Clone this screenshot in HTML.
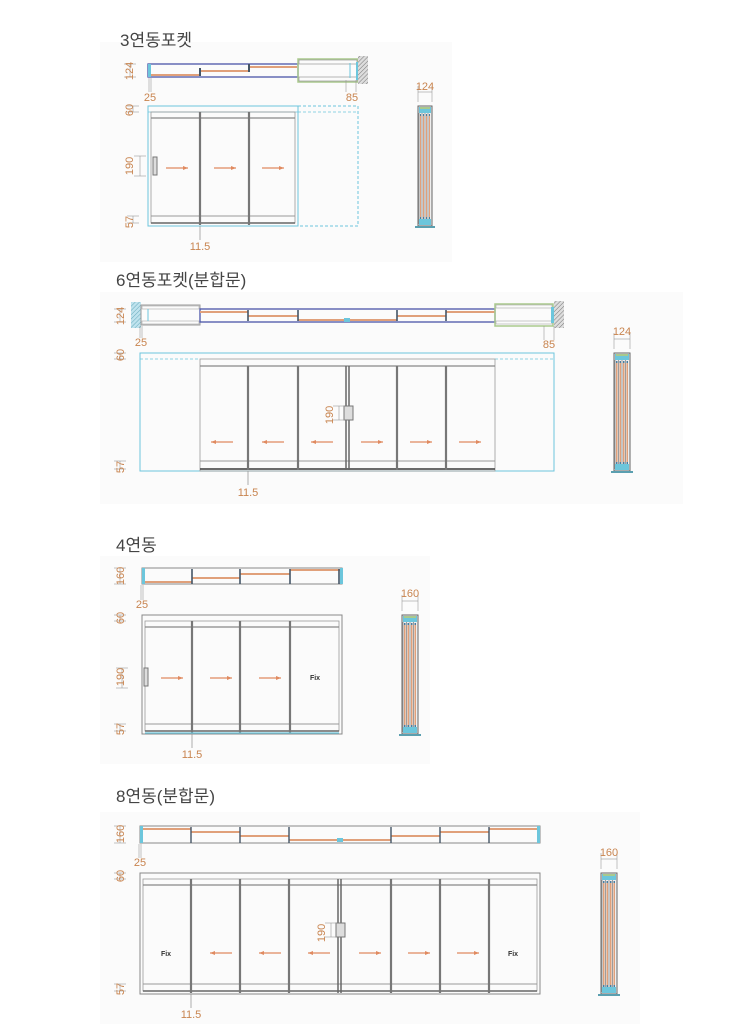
<!DOCTYPE html>
<html><head><meta charset="utf-8"><style>
html,body{margin:0;padding:0;background:#fff;width:753px;height:1024px;overflow:hidden}
svg{display:block}
.t{font-family:"Liberation Sans","Noto Sans CJK KR",sans-serif;font-size:17px;fill:#444}
.d{font-family:"Liberation Sans",sans-serif;font-size:11px;fill:#c8844f}
</style></head><body>
<svg id="s" width="753" height="1024" xmlns="http://www.w3.org/2000/svg">
<defs><pattern id="h" width="3" height="3" patternUnits="userSpaceOnUse" patternTransform="rotate(45)"><rect width="3" height="3" fill="#ddd"/><line x1="0" y1="0" x2="0" y2="3" stroke="#777" stroke-width="1"/></pattern>
<pattern id="hb" width="3" height="3" patternUnits="userSpaceOnUse" patternTransform="rotate(45)"><rect width="3" height="3" fill="#bfe3ee"/><line x1="0" y1="0" x2="0" y2="3" stroke="#6ab" stroke-width="1"/></pattern></defs>
<rect x="100" y="42" width="352" height="220" fill="#fbfbfb"/>
<rect x="100" y="292" width="583" height="212" fill="#fbfbfb"/>
<rect x="100" y="556" width="330" height="208" fill="#fbfbfb"/>
<rect x="100" y="812" width="540" height="212" fill="#fbfbfb"/>
<text class="t" x="120" y="46">3연동포켓</text>
<text class="t" x="116" y="286">6연동포켓(분합문)</text>
<text class="t" x="116" y="551">4연동</text>
<text class="t" x="116" y="802">8연동(분합문)</text>
<g id="g"></g>
<text class="d" transform="translate(133,71) rotate(-90)" text-anchor="middle">124</text>
<text class="d" x="150" y="101" text-anchor="middle">25</text>
<text class="d" x="352" y="101" text-anchor="middle">85</text>
<text class="d" transform="translate(133,110) rotate(-90)" text-anchor="middle">60</text>
<text class="d" transform="translate(133,166) rotate(-90)" text-anchor="middle">190</text>
<text class="d" transform="translate(133,222) rotate(-90)" text-anchor="middle">57</text>
<text class="d" x="200" y="250" text-anchor="middle">11.5</text>
<text class="d" x="425" y="90" text-anchor="middle">124</text>

<text class="d" transform="translate(124,316) rotate(-90)" text-anchor="middle">124</text>
<text class="d" x="141" y="346" text-anchor="middle">25</text>
<text class="d" x="549" y="348" text-anchor="middle">85</text>
<text class="d" transform="translate(124,355) rotate(-90)" text-anchor="middle">60</text>
<text class="d" transform="translate(333,415) rotate(-90)" text-anchor="middle">190</text>
<text class="d" transform="translate(124,467) rotate(-90)" text-anchor="middle">57</text>
<text class="d" x="248" y="496" text-anchor="middle">11.5</text>
<text class="d" x="622" y="335" text-anchor="middle">124</text>

<text class="d" transform="translate(124,576) rotate(-90)" text-anchor="middle">160</text>
<text class="d" x="142" y="608" text-anchor="middle">25</text>
<text class="d" transform="translate(124,618) rotate(-90)" text-anchor="middle">60</text>
<text class="d" transform="translate(124,677) rotate(-90)" text-anchor="middle">190</text>
<text class="d" transform="translate(124,729) rotate(-90)" text-anchor="middle">57</text>
<text class="d" x="192" y="758" text-anchor="middle">11.5</text>
<text class="d" x="410" y="597" text-anchor="middle">160</text>

<text class="d" transform="translate(124,834) rotate(-90)" text-anchor="middle">160</text>
<text class="d" x="140" y="866" text-anchor="middle">25</text>
<text class="d" transform="translate(124,876) rotate(-90)" text-anchor="middle">60</text>
<text class="d" transform="translate(325,933) rotate(-90)" text-anchor="middle">190</text>
<text class="d" transform="translate(124,989) rotate(-90)" text-anchor="middle">57</text>
<text class="d" x="191" y="1018" text-anchor="middle">11.5</text>
<text class="d" x="609" y="856" text-anchor="middle">160</text>
<text x="315" y="680" font-family="Liberation Sans" font-size="7" font-weight="bold" fill="#333" text-anchor="middle">Fix</text>
<text x="166" y="956" font-family="Liberation Sans" font-size="7" font-weight="bold" fill="#333" text-anchor="middle">Fix</text>
<text x="513" y="956" font-family="Liberation Sans" font-size="7" font-weight="bold" fill="#333" text-anchor="middle">Fix</text>
</svg>
<script>
var g=document.getElementById('g'),NS='http://www.w3.org/2000/svg';
function el(t,a){var e=document.createElementNS(NS,t);for(var k in a)e.setAttribute(k,a[k]);g.appendChild(e);return e}
function L(x1,y1,x2,y2,c,w,da){var a={x1:x1,y1:y1,x2:x2,y2:y2,stroke:c||'#888','stroke-width':w||1};if(da)a['stroke-dasharray']=da;el('line',a)}
function R(x,y,w,h,s,f,sw,da){var a={x:x,y:y,width:w,height:h,stroke:s||'none',fill:f||'none','stroke-width':sw||1};if(da)a['stroke-dasharray']=da;el('rect',a)}
var OR='#e0a07a',BL='#4a55a8',CY='#6cc6dc',GR='#a9c98c',DG='#777';
function arrow(x,y,dir){var x1=x-11,x2=x+11;L(x1,y,x2,y,'#e08a60',1.2);
 if(dir>0)el('path',{d:'M'+x2+' '+y+' l-5 -2 l0 4z',fill:'#e08a60'});else el('path',{d:'M'+x1+' '+y+' l5 -2 l0 4z',fill:'#e08a60'});}
function vdim(x,y1,y2){L(x-6,y1,x+6,y1,'#999',.6);L(x-6,y2,x+6,y2,'#999',.6);L(x,y1,x,y2,'#999',.6)}
function side(x,y1,y2,w){R(x,y1,w,y2-y1,'#666','#eee',1);R(x+1,y1+1,w-2,6,'none',CY);R(x+2,y1+1,w-4,2,'none',GR);
 var n=4,sw=(w-2)/n;for(var i=0;i<n;i++){R(x+1+i*sw+1,y1+9,sw-2,y2-y1-18,'none',OR);L(x+1+i*sw,y1+7,x+1+i*sw,y2-2,'#888',.8);R(x+1+i*sw+1,y1+8,sw-2,2,'none','#4a7ea0');R(x+1+i*sw+1,y2-9,sw-2,2,'none','#4a7ea0');}
 R(x+1,y2-7,w-2,6,'none',CY);R(x-3,y2,w+6,2,'none','#5a9fb0');L(x,y1-20,x,y1-4,'#999',.6);L(x+w,y1-20,x+w,y1-4,'#999',.6);L(x,y1-14,x+w,y1-14,'#999',.6)}
function elev(x0,x1,y0,y1,div,opt){
 R(x0,y0,x1-x0,y1-y0,opt.outer||'#888','none',1);
 R(x0+3,y0+6,x1-x0-6,y1-y0-9,'#999','none',.8);
 L(x0+3,y0+12,x1-3,y0+12,'#888',1.2);L(x0+3,y1-10,x1-3,y1-10,'#999',1);L(x0+3,y1-3,x1-3,y1-3,'#666',1.6);
 div.forEach(function(d){L(d,y0+6,d,y1-1,'#777',2.2)});
 vdim(opt.dx,y0,y0+6);vdim(opt.dx,y1-10,y1-3);
 L(opt.ix,y1,opt.ix,y1+14,'#999',.8);
}
R(148,64,150,13,BL,'none',1.3);
L(150,75,200,75,OR,2);L(200,71,249,71,OR,2);L(249,67,297,67,OR,2);
L(200,68,200,76,'#456',2);L(249,64,249,72,'#456',2);R(148,64,3,13,'none',CY);
R(298,59,60,23,GR,'none',1.5);R(299,60,58,4,'#888','none',.6);R(299,77,58,4,'#888','none',.6);R(356,62,3,18,'none',CY);L(350,63,350,78,CY,1);
R(358,56,10,28,'none','url(#h)');
vdim(130,64,77);L(149,78,149,92,'#999',.6);L(151,78,151,92,'#999',.6);L(346,80,346,92,'#999',.6);L(356,80,356,92,'#999',.6);
R(148,106,150,120,CY,'none',1);R(298,106,60,120,CY,'none',1,'3,2');L(298,112,358,112,CY,.8,'3,2');L(148,112,298,112,CY,.8);
elev(148,298,106,226,[200,249],{dx:133,ix:200,outer:CY});
vdim(140,156,176);R(153,157,4,18,'#777','#ddd',1);
arrow(177,168,1);arrow(225,168,1);arrow(273,168,1);
side(418,106,226,14);
R(131,302,10,26,'none','url(#hb)');R(141,305,59,20,'#999','none',1);R(142,306,57,3,'#999','none',.5);R(142,321,57,3,'#999','none',.5);L(148,309,148,321,CY,1);
R(200,309,295,13,BL,'none',1.3);
var yy=[312,316,320,320,316,312],xs=[200,248,298,347,397,446,495];
for(var i=0;i<6;i++){L(xs[i],yy[i],xs[i+1],yy[i],OR,2);}
[248,298,397,446].forEach(function(x){L(x,310,x,321,'#456',1.6)});R(344,318,6,4,'none',CY);
R(495,304,58,22,GR,'none',1.5);R(496,305,56,3,'#999','none',.5);R(496,321,56,3,'#999','none',.5);R(551,307,3,16,'none',CY);
R(554,301,10,27,'none','url(#h)');
vdim(120,309,322);L(140,326,140,338,'#999',.6);L(142,326,142,338,'#999',.6);L(544,326,544,340,'#999',.6);L(554,326,554,340,'#999',.6);
R(140,353,414,118,CY,'none',1);L(140,359,200,359,CY,.8,'3,2');L(495,359,554,359,CY,.8,'3,2');L(140,353,200,353,CY,.8);
R(200,359,295,112,'#999','none',.8);L(200,366,495,366,'#888',1.2);L(200,461,495,461,'#999',1);L(200,469,495,469,'#555',1.8);
[248,298,397,446].forEach(function(x){L(x,366,x,470,'#777',2.2)});L(346,366,346,470,'#666',1.5);L(349,366,349,470,'#666',1.5);
vdim(120,353,359);vdim(120,461,469);L(248,471,248,485,'#999',.8);
R(344,406,9,14,'#777','#ddd',1);vdim(339,406,420);
arrow(222,442,-1);arrow(273,442,-1);arrow(322,442,-1);arrow(372,442,1);arrow(421,442,1);arrow(470,442,1);
side(614,353,471,16);
R(142,568,200,16,'#888','none',1);
L(145,582,192,582,OR,2);L(192,578,240,578,OR,2);L(240,574,290,574,OR,2);L(290,570,340,570,OR,2);
[192,240,290,339].forEach(function(x){L(x,569,x,584,'#456',1.6)});R(142,568,3,16,'none',CY);R(340,568,3,16,'none',CY);
vdim(120,568,584);L(141,585,141,600,'#999',.6);L(143,585,143,600,'#999',.6);
elev(142,342,615,734,[192,240,290],{dx:120,ix:192});L(145,733,339,733,CY,1.2);
vdim(122,668,688);R(144,668,4,18,'#777','#ddd',1);
arrow(172,678,1);arrow(221,678,1);arrow(270,678,1);
side(402,615,734,16);
R(140,826,400,17,'#888','none',1);
var x8=[142,191,240,289,340,391,440,489,538],y8=[829,832,836,840,840,836,832,829];
for(i=0;i<8;i++)L(x8[i],y8[i],x8[i+1],y8[i],OR,2);
[191,240,289,391,440,489].forEach(function(x){L(x,827,x,843,'#456',1.4)});
R(337,838,6,4,'none',CY);R(140,826,3,17,'none',CY);R(537,826,3,17,'none',CY);
vdim(120,826,843);L(139,844,139,858,'#999',.6);L(141,844,141,858,'#999',.6);
elev(140,540,873,994,[191,240,289,391,440,489],{dx:120,ix:191});L(338,879,338,993,'#666',1.5);L(341,879,341,993,'#666',1.5);
R(336,923,9,14,'#777','#ddd',1);vdim(331,923,937);
arrow(221,953,-1);arrow(270,953,-1);arrow(319,953,-1);arrow(370,953,1);arrow(419,953,1);arrow(468,953,1);
side(601,873,994,16);
</script>
</body></html>
